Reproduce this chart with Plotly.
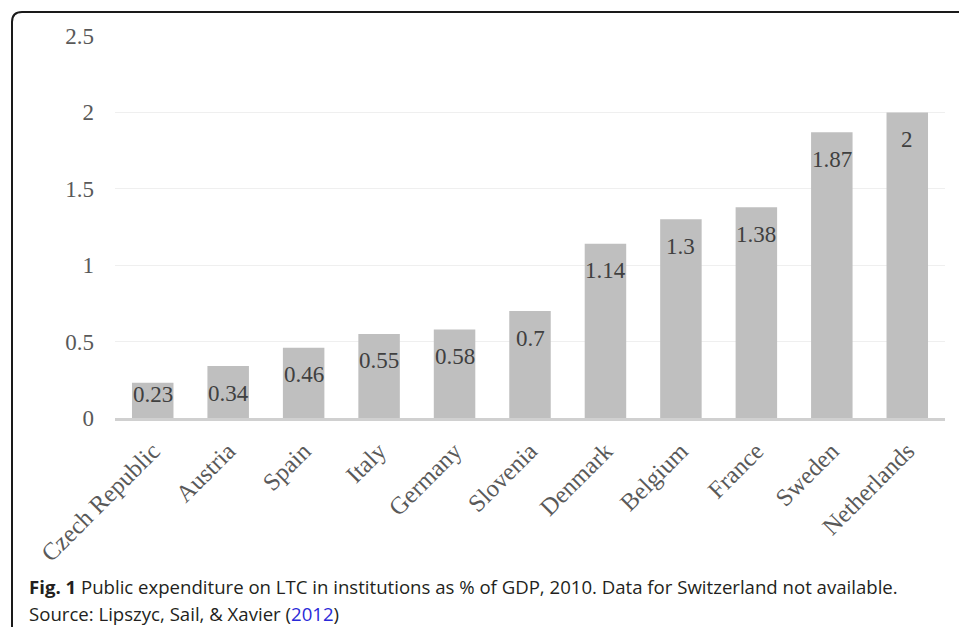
import plotly.graph_objects as go

countries = ["Czech Republic", "Austria", "Spain", "Italy", "Germany", "Slovenia",
             "Denmark", "Belgium", "France", "Sweden", "Netherlands"]
spending = [0.23, 0.34, 0.46, 0.55, 0.58, 0.7, 1.14, 1.3, 1.38, 1.87, 2]
y_ticks = [0, 0.5, 1, 1.5, 2, 2.5]
y_tick_text = ["0", "0.5", "1", "1.5", "2", "2.5"]

W, H = 959, 627
L, R, T, B = 115, 14, 36, 209
plot_h = H - T - B
y_max = 2.5
px_per_unit = plot_h / y_max

serif = "Liberation Serif, Times New Roman, serif"

fig = go.Figure(go.Bar(
    x=countries,
    y=spending,
    marker=dict(color="#bfbfbf", line=dict(width=0)),
    hoverinfo="x+y",
))

# value labels placed inside the top of each bar
annotations = []
for c, v in zip(countries, spending):
    bar_px = v * px_per_unit
    shift = -min(27, bar_px - 24)
    annotations.append(dict(
        x=c, y=v, xref="x", yref="y", text=f"{v:g}", showarrow=False,
        yanchor="middle", yshift=shift,
        font=dict(family=serif, size=23, color="#404040"),
    ))

# caption beneath the chart
cap_font = dict(family="Open Sans, sans-serif", size=18.6, color="#231f20")
annotations.append(dict(
    xref="paper", yref="paper",
    x=(27 - L) / (W - L - R), y=(H - B - 586) / plot_h,
    xanchor="left", yanchor="middle", showarrow=False, align="left",
    text="<b>Fig. 1</b> Public expenditure on LTC in institutions as % of GDP, 2010. "
         "Data for Switzerland not available.",
    font=cap_font,
))
annotations.append(dict(
    xref="paper", yref="paper",
    x=(27 - L) / (W - L - R), y=(H - B - 613) / plot_h,
    xanchor="left", yanchor="middle", showarrow=False, align="left",
    text="Source: Lipszyc, Sail, &amp; Xavier (<span style='color:#2a2ad8'>2012</span>)",
    font=cap_font,
))


def px_x(p):
    return (p - L) / (W - L - R)


def px_y(p):
    return (H - B - p) / plot_h


# rounded frame around the figure
x0, y0, rad = 12, 12, 10
frame = (f"M {px_x(x0)},{px_y(H + 20)} L {px_x(x0)},{px_y(y0 + rad)} "
         f"Q {px_x(x0)},{px_y(y0)} {px_x(x0 + rad)},{px_y(y0)} "
         f"L {px_x(W + 20)},{px_y(y0)}")

fig.update_layout(
    width=W, height=H,
    margin=dict(l=L, r=R, t=T, b=B),
    plot_bgcolor="white", paper_bgcolor="white",
    bargap=0.45,
    showlegend=False,
    annotations=annotations,
    shapes=[dict(type="path", path=frame, xref="paper", yref="paper",
                 line=dict(color="#1a1a1a", width=2))],
    xaxis=dict(
        tickangle=-45,
        tickfont=dict(family=serif, size=24.5, color="#595959"),
        showgrid=False, showline=True, linecolor="#d0d0d0", linewidth=3,
        ticks="", ticklabelstandoff=6,
    ),
    yaxis=dict(
        range=[0, y_max],
        tickvals=y_ticks, ticktext=y_tick_text,
        tickfont=dict(family=serif, size=23, color="#595959"),
        showgrid=True, gridcolor="#efefef", gridwidth=1,
        zeroline=False, showline=False, ticks="",
        ticklabelstandoff=20,
    ),
)

fig.write_html("out.html")
